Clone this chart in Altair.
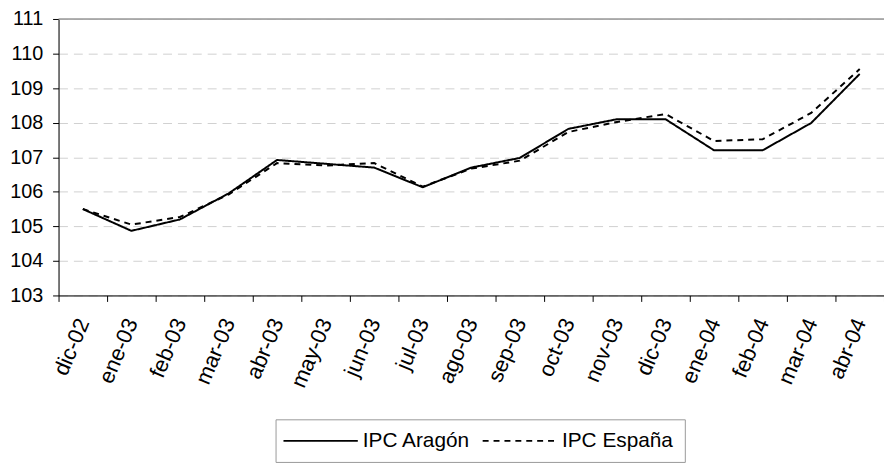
import altair as alt
import pandas as pd

months = ["dic-02", "ene-03", "feb-03", "mar-03", "abr-03", "may-03", "jun-03",
          "jul-03", "ago-03", "sep-03", "oct-03", "nov-03", "dic-03", "ene-04",
          "feb-04", "mar-04", "abr-04"]
aragon = [105.5, 104.87, 105.2, 105.95, 106.92, 106.81, 106.7, 106.13, 106.7,
          106.98, 107.82, 108.1, 108.1, 107.2, 107.2, 107.99, 109.41]
espana = [105.5, 105.05, 105.27, 105.92, 106.83, 106.76, 106.83, 106.15, 106.67,
          106.9, 107.73, 108.02, 108.25, 107.47, 107.52, 108.28, 109.55]
series = ["IPC Aragón", "IPC España"]
y_ticks = [103, 104, 105, 106, 107, 108, 109, 110, 111]

rows = []
for m, a, e in zip(months, aragon, espana):
    rows.append({"mes": m, "serie": series[0], "valor": a})
    rows.append({"mes": m, "serie": series[1], "valor": e})
df = pd.DataFrame(rows)

FONT = "Liberation Sans"

y_axis = alt.Axis(values=y_ticks, labelFontSize=20, labelFont=FONT,
                  labelColor="black", tickSize=6, tickColor="black",
                  domainColor="black", labelPadding=10,
                  labelOverlap=False, labelFlush=False,
                  grid=True, gridColor="#d0d0d0", gridDash=[9, 6])
y_scale = alt.Scale(domain=[y_ticks[0], y_ticks[-1]], nice=False, zero=False)

x_enc = alt.X("mes:N", sort=months, title=None,
              scale=alt.Scale(paddingInner=0, paddingOuter=0),
              axis=alt.Axis(labelAngle=-67, labelFontSize=22, labelFont=FONT,
                            labelColor="black", tickBand="extent", tickSize=6,
                            tickColor="black", domainColor="black",
                            labelPadding=18, grid=False, labelOverlap=False))

lines = alt.Chart(df).mark_line(color="black", strokeWidth=2).encode(
    x=x_enc,
    y=alt.Y("valor:Q", title=None, scale=y_scale, axis=y_axis),
    strokeDash=alt.StrokeDash(
        "serie:N",
        scale=alt.Scale(domain=series, range=[[1, 0], [6, 5]]),
        legend=alt.Legend(
            title=None, orient="none", direction="horizontal",
            legendX=219, legendY=404,
            symbolType="M-10,0H10", symbolSize=56.25, symbolStrokeWidth=2,
            symbolStrokeColor="black", symbolOffset=24,
            labelFont=FONT, labelFontSize=21,
            labelColor="black", labelOffset=32, columnPadding=8, padding=11,
            strokeColor="#999999", fillColor="white", labelLimit=300,
        ),
    ),
)

top = alt.Chart(pd.DataFrame({"valor": [y_ticks[-1]]})).mark_rule(
    color="#999999", strokeWidth=1.5).encode(
    y=alt.Y("valor:Q", title=None, scale=y_scale, axis=y_axis))

chart = alt.layer(lines, top).properties(
    width=833, height=279,
    autosize=alt.AutoSizeParams(type="none"),
    padding={"left": 51, "top": 9, "right": 0, "bottom": 168},
).configure_view(stroke=None).configure(background="white")

chart.save("out.html", embed_options={"renderer": "svg", "actions": False})
